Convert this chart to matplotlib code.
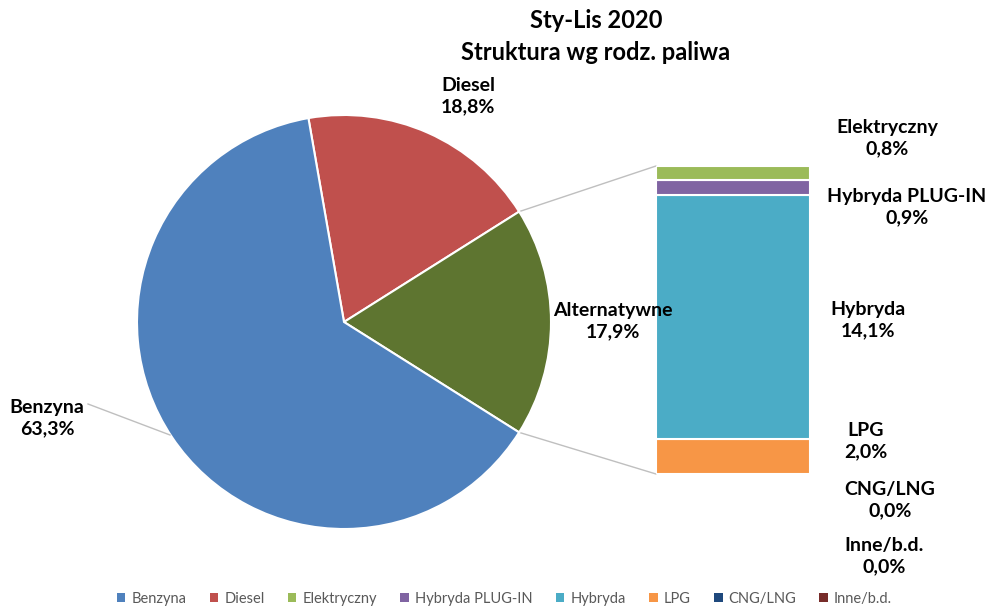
import matplotlib.pyplot as plt
from matplotlib.patches import ConnectionPatch, Patch
import numpy as np

plt.rcParams['font.family'] = ['Lato', 'DejaVu Sans']

# pie data (clockwise from Diesel)
pie_labels = ['Diesel', 'Alternatywne', 'Benzyna']
pie_values = [18.8, 17.9, 63.3]
pie_colors = ['#C0504D', '#5E7530', '#4F81BD']

# breakdown of "Alternatywne", bottom to top of the stacked bar
bar_labels = ['Inne/b.d.', 'CNG/LNG', 'LPG', 'Hybryda', 'Hybryda PLUG-IN', 'Elektryczny']
bar_values = [0.0, 0.0, 2.0, 14.1, 0.9, 0.8]
bar_colors = ['#772C2A', '#1F497D', '#F79646', '#4BACC6', '#8064A2', '#9BBB59']

legend_labels = ['Benzyna', 'Diesel', 'Elektryczny', 'Hybryda PLUG-IN', 'Hybryda', 'LPG', 'CNG/LNG', 'Inne/b.d.']
legend_colors = ['#4F81BD', '#C0504D', '#9BBB59', '#8064A2', '#4BACC6', '#F79646', '#1F497D', '#772C2A']

W, H = 989, 607
fig = plt.figure(figsize=(W / 100, H / 100), dpi=100)

# main axes in pixel units (y up)
ax = fig.add_axes([0, 0, 1, 1])
ax.set_zorder(2)
ax.patch.set_visible(False)

cx, cy, r = 344, H - 322, 207
alt_span = pie_values[1] / sum(pie_values) * 360
start = alt_span / 2 + pie_values[0] / sum(pie_values) * 360
wedges, _ = ax.pie(pie_values, colors=pie_colors, startangle=start, counterclock=False,
                   center=(cx, cy), radius=r, frame=True,
                   wedgeprops=dict(edgecolor='white', linewidth=1.5))
ax.set_xlim(0, W)
ax.set_ylim(0, H)
ax.set_aspect('auto')
ax.axis('off')

# stacked bar
bax = fig.add_axes([656 / W, (H - 474) / H, 154 / W, 308 / H])
bax.set_zorder(1)
bottom = 0
for v, c in zip(bar_values, bar_colors):
    bax.bar(0, v, bottom=bottom, width=1.0, color=c, edgecolor='white', linewidth=1.5)
    bottom += v
bax.set_xlim(-0.5, 0.5)
bax.set_ylim(0, bottom)
bax.axis('off')

# connector lines from the "Alternatywne" wedge to the bar
alt = wedges[1]
for ang, yb in [(alt.theta2, bottom), (alt.theta1, 0)]:
    px = cx + r * np.cos(np.radians(ang))
    py = cy + r * np.sin(np.radians(ang))
    con = ConnectionPatch(xyA=(px, py), coordsA=ax.transData,
                          xyB=(-0.5, yb), coordsB=bax.transData,
                          color='#BFBFBF', linewidth=1)
    fig.add_artist(con)

def pct(v):
    return f'{v:.1f}%'.replace('.', ',')

lab_kw = dict(fontsize=14, fontweight='bold', ha='center', va='center', color='black',
              linespacing=1.3)

# pie labels
ax.text(468, H - 96, f'Diesel\n{pct(pie_values[0])}', **lab_kw)
ax.text(613, H - 321, f'Alternatywne\n{pct(pie_values[1])}', **lab_kw)
ax.text(47, H - 418, f'Benzyna\n{pct(pie_values[2])}', **lab_kw)
ax.plot([88, 170], [H - 404, H - 435], color='#BFBFBF', linewidth=1)

# bar labels
bar_label_pos = {'Elektryczny': (887, 138), 'Hybryda PLUG-IN': (907, 207),
                 'Hybryda': (868, 320), 'LPG': (866, 441),
                 'CNG/LNG': (890, 500), 'Inne/b.d.': (884, 556)}
for lab, v in zip(bar_labels, bar_values):
    x, y = bar_label_pos[lab]
    ax.text(x, H - y, f'{lab}\n{pct(v)}', **lab_kw)

# title
ax.text(596, H - 20, 'Sty-Lis 2020', fontsize=17, fontweight='bold', ha='center', va='center')
ax.text(596, H - 52, 'Struktura wg rodz. paliwa', fontsize=17, fontweight='bold',
        ha='center', va='center')

# legend at the very bottom edge, as in the original
handles = [Patch(facecolor=c, edgecolor='none') for c in legend_colors]
fig.legend(handles, legend_labels, loc='center', bbox_to_anchor=(0.51, (H - 599) / H),
           ncol=8, frameon=False, fontsize=10.5, handlelength=0.6, handleheight=0.6,
           handletextpad=0.4, columnspacing=1.6, labelcolor='#595959')

fig.savefig('out.png', dpi=100)
